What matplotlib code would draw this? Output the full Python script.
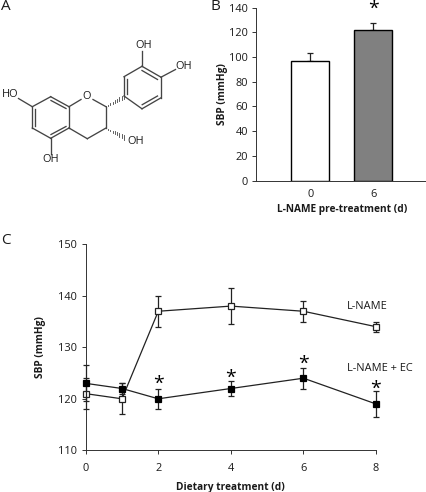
import matplotlib
matplotlib.use("Agg")
import matplotlib.pyplot as plt
from matplotlib.lines import Line2D

plt.rcParams['font.family'] = ['Open Sans', 'DejaVu Sans']

W, H = 427, 492
# Panel B data
bar_cats = ['0', '6']
bar_vals = [97, 122]
bar_errs = [6, 6]
bar_colors = ['white', '#808080']
bar_star_val = 142
# Panel C data
days = [0, 1, 2, 4, 6, 8]
lname = [121, 120, 137, 138, 137, 134]
lname_err = [3, 3, 3, 3.5, 2, 1]
lname_ec = [123, 122, 120, 122, 124, 119]
lname_ec_err = [3.5, 1, 2, 1.5, 2, 2.5]
star_days = [2, 4, 6, 8]
star_vals = [123.6, 124.8, 127.5, 122.7]

# Panel A structure, drawn in picture pixels
ring_bonds = [((32.3,106.7),(50.7,96.7)),((50.7,96.7),(69,106.7)),((69,106.7),(69,128)),
              ((69,128),(50.7,138.3)),((50.7,138.3),(32.3,128)),((32.3,128),(32.3,106.7)),
              ((69,106.7),(81,99.5)),((93,99.5),(106,106.7)),((106,106.7),(106,128)),
              ((106,128),(87.3,138.7)),((87.3,138.7),(69,128)),
              ((124,96),(124,76.7)),((124,76.7),(142,66.3)),((142,66.3),(161,77.2)),
              ((161,77.2),(161,97.8)),((161,97.8),(142,108.8)),((142,108.8),(124,96)),
              ((32.3,106.7),(18.5,98.5)),((50.7,138.3),(50.7,154)),
              ((142,66.3),(142,50.5)),((161,77.2),(175.5,69.5))]
double_bonds = [((35.5,109),(35.5,126)),((51,100.5),(66,108.5)),((51,134.5),(66,126.5)),
                ((127.3,79),(127.3,94)),((142,70.5),(157.5,79.5)),((142.2,104.7),(157.5,96))]
hashed = [((106,106.7),(124,96.5)),((106,128),(124,137.5))]
atom_labels = [('HO',10,94.5),('OH',50.7,159.5),('O',87,96.5),('OH',143.5,45),('OH',183.5,66.5),('OH',135.5,141.5)]

def px(x, y):
    return x / W, 1 - y / H

def axes_px(l, t, r, b):
    return fig.add_axes([l / W, 1 - b / H, (r - l) / W, (b - t) / H])

fig = plt.figure(figsize=(W / 100, H / 100), dpi=100, facecolor='white')
AXC = '#333333'
TXT = '#1a1a1a'
FS = 7.9
BOLD = 7.3
STAR = 14

for (a, b) in ring_bonds + double_bonds:
    fig.add_artist(Line2D([px(*a)[0], px(*b)[0]], [px(*a)[1], px(*b)[1]], color='#444444', lw=0.95))
for (a, b) in hashed:
    n = 9
    for i in range(n):
        t = i / (n - 1)
        cx, cy = a[0] + (b[0] - a[0]) * t, a[1] + (b[1] - a[1]) * t
        hw = 0.3 + 2.0 * t
        p0, p1 = px(cx, cy - hw), px(cx, cy + hw)
        fig.add_artist(Line2D([p0[0], p1[0]], [p0[1], p1[1]], color='#444444', lw=0.6))
for s, x, y in atom_labels:
    fig.text(*px(x, y), s, ha='center', va='center', fontsize=FS, color=TXT)

for s, x, y in [('A', 5.5, 6), ('B', 215.5, 6), ('C', 5.5, 241)]:
    fig.text(*px(x, y), s, ha='center', va='center', fontsize=11, color=TXT)

def star(ax, x, y):
    ax.annotate('*', (x, y), xytext=(0, -2.6), textcoords='offset points', ha='center', va='center',
                fontsize=STAR, color='black', annotation_clip=False)

# Panel B
axb = axes_px(256.3, 7.7, 427, 180.5)
pos = list(range(len(bar_vals)))
axb.bar(pos, bar_vals, width=0.595, color=bar_colors, edgecolor='black', linewidth=1.0, zorder=2)
axb.errorbar(pos, bar_vals, yerr=[[0, 0], bar_errs], fmt='none', ecolor='#222222',
             elinewidth=0.9, capsize=2.4, capthick=0.9, zorder=1)
axb.set_xlim(-0.857, 1.857)
axb.set_ylim(0, 140)
axb.set_yticks(range(0, 141, 20))
axb.set_xticks(pos, bar_cats)
axb.set_ylabel('SBP (mmHg)', fontsize=BOLD, fontweight='bold', color=TXT, labelpad=0.5)
axb.set_xlabel('L-NAME pre-treatment (d)', fontsize=BOLD, fontweight='bold', color=TXT, labelpad=3)
star(axb, 1, bar_star_val)

# Panel C
axc = axes_px(85.7, 244.3, 376, 450.3)
axc.errorbar(days, lname, yerr=lname_err, color='#222222', lw=0.9, elinewidth=0.9, capsize=2.4,
             capthick=0.9, marker='s', ms=5, mfc='white', mec='#222222', mew=0.9, zorder=3, clip_on=False)
axc.errorbar(days, lname_ec, yerr=lname_ec_err, color='#222222', lw=0.9, elinewidth=0.9, capsize=2.4,
             capthick=0.9, marker='s', ms=5, mfc='black', mec='black', mew=0.9, zorder=4, clip_on=False)
axc.set_xlim(0, 8)
axc.set_ylim(110, 150)
axc.set_yticks(range(110, 151, 10))
axc.set_xticks(range(0, 9, 2))
axc.set_ylabel('SBP (mmHg)', fontsize=BOLD, fontweight='bold', color=TXT, labelpad=9)
axc.set_xlabel('Dietary treatment (d)', fontsize=BOLD, fontweight='bold', color=TXT, labelpad=6)
for d, v in zip(star_days, star_vals):
    star(axc, d, v)
axc.text(7.2, 138, 'L-NAME', ha='left', va='center', fontsize=FS, color=TXT)
axc.text(7.2, 125.8, 'L-NAME + EC', ha='left', va='center', fontsize=FS, color=TXT)

for ax in (axb, axc):
    ax.patch.set_alpha(0)
    for s in ('top', 'right'):
        ax.spines[s].set_visible(False)
    for s in ('left', 'bottom'):
        ax.spines[s].set_color(AXC)
        ax.spines[s].set_linewidth(0.7)
    ax.tick_params(axis='both', labelsize=FS, colors=TXT, color=AXC, width=0.7, length=3, pad=3)
axb.tick_params(axis='x', length=0, pad=6)
axc.tick_params(axis='x', pad=6)

fig.savefig('out.png', dpi=100)
